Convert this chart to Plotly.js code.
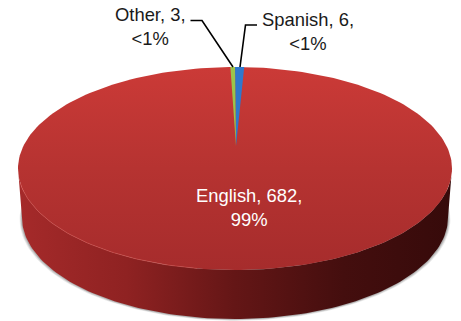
<!DOCTYPE html>
<html><head><meta charset="utf-8">
<script src="https://cdn.plot.ly/plotly-3.0.1.min.js"></script>
<style>html,body{margin:0;padding:0;background:#fff}</style></head>
<body><div id="chart" style="width:461px;height:321px"></div>
<script>
const categories = ["English", "Spanish", "Other"];
const counts = [682, 6, 3];
const percentLabels = ["99%", "<1%", "<1%"];
const sliceColors = ["#c43735", "#2f78cc", "#9cc44a"];

const total = counts.reduce((a, b) => a + b, 0);
const cx = 235, cy = 168.5, rx = 217, ry = 101.5, depth = 49;
const apex = [236, 146];
const steps = 240;
function arc(a0, a1, dy, drx) {
  const p = [], n = Math.max(2, Math.ceil(Math.abs(a1 - a0) / 360 * steps));
  for (let i = 0; i <= n; i++) {
    const t = (a0 + (a1 - a0) * i / n) * Math.PI / 180;
    p.push([cx + (rx + drx) * Math.sin(t), cy + dy - ry * Math.cos(t)]);
  }
  return p;
}
const poly = (pts, extra) => Object.assign({
  x: pts.map(p => p[0]), y: pts.map(p => p[1]), mode: "lines", fill: "toself",
  line: { width: 0 }, hoverinfo: "skip", showlegend: false
}, extra);

const traces = [];
// soft shadow beneath the wall
[[3, 0.12], [2, 0.18], [1, 0.26]].forEach(([o, a]) => {
  traces.push(poly(arc(80, 280, depth + o * 0.6, -4 + o * 0.8).concat(arc(280, 80, -10, -8)), { fillcolor: `rgba(80,80,80,${a})` }));
});
// wall
traces.push(poly(arc(90, 270, depth, -4).concat(arc(270, 90, 0, 0)), {
  fillcolor: "#6b1717",
  fillgradient: { type: "horizontal", colorscale: [[0, "#a52a2a"], [0.25, "#8f2222"], [0.5, "#641616"], [0.75, "#440e0e"], [1, "#360a0a"]] }
}));
// English: full top surface
traces.push(poly(arc(0, 360, 0, 0), {
  fillcolor: sliceColors[0],
  fillgradient: { type: "vertical", colorscale: [[0, "#a62c2c"], [0.5, "#b63331"], [1, "#cb3a37"]] }
}));
// rim highlight
const rim = arc(190, 262, 0, 0);
traces.push({ x: rim.map(p => p[0]), y: rim.map(p => p[1]), mode: "lines", line: { color: "rgba(225,90,85,0.5)", width: 1 }, hoverinfo: "skip", showlegend: false });
// small slices, clockwise (Spanish) and anticlockwise (Other) of 12 o'clock
const narrow = 0.78;
const spanishDeg = counts[1] / total * 360 * narrow, otherDeg = counts[2] / total * 360 * narrow;
traces.push(poly([apex].concat(arc(0, spanishDeg, 0, 0)), { fillcolor: sliceColors[1] }));
traces.push(poly([apex].concat(arc(-otherDeg, 0, 0, 0)), { fillcolor: sliceColors[2] }));
// leader lines
const leader = (xs, ys) => ({ x: xs, y: ys, mode: "lines", line: { color: "#000", width: 1.6 }, hoverinfo: "skip", showlegend: false });
traces.push(leader([190.5, 202, 233], [20.5, 20.5, 67]));
traces.push(leader([257, 245.5, 240], [25, 25, 67]));

const font = { family: "Liberation Sans, Arial, sans-serif", size: 18.4, color: "#1a1a1a" };
const ann = (i, x, y, color) => ({
  x, y, xref: "x", yref: "y", showarrow: false, align: "center", xanchor: "center", yanchor: "middle",
  text: `${categories[i]}, ${counts[i]},<br>${percentLabels[i]}`.replace("<1%", "&lt;1%"),
  font: Object.assign({}, font, color ? { color } : {})
});
const layout = {
  width: 461, height: 321, margin: { l: 0, r: 0, t: 0, b: 0 },
  paper_bgcolor: "#fff", plot_bgcolor: "#fff", showlegend: false,
  xaxis: { range: [0, 461], visible: false, fixedrange: true },
  yaxis: { range: [321, 0], visible: false, fixedrange: true },
  annotations: [ann(0, 248.5, 207, "#ffffff"), ann(1, 308, 31.5), ann(2, 150, 26.5)]
};
Plotly.newPlot("chart", traces, layout, { displayModeBar: false, staticPlot: true });
</script></body></html>
